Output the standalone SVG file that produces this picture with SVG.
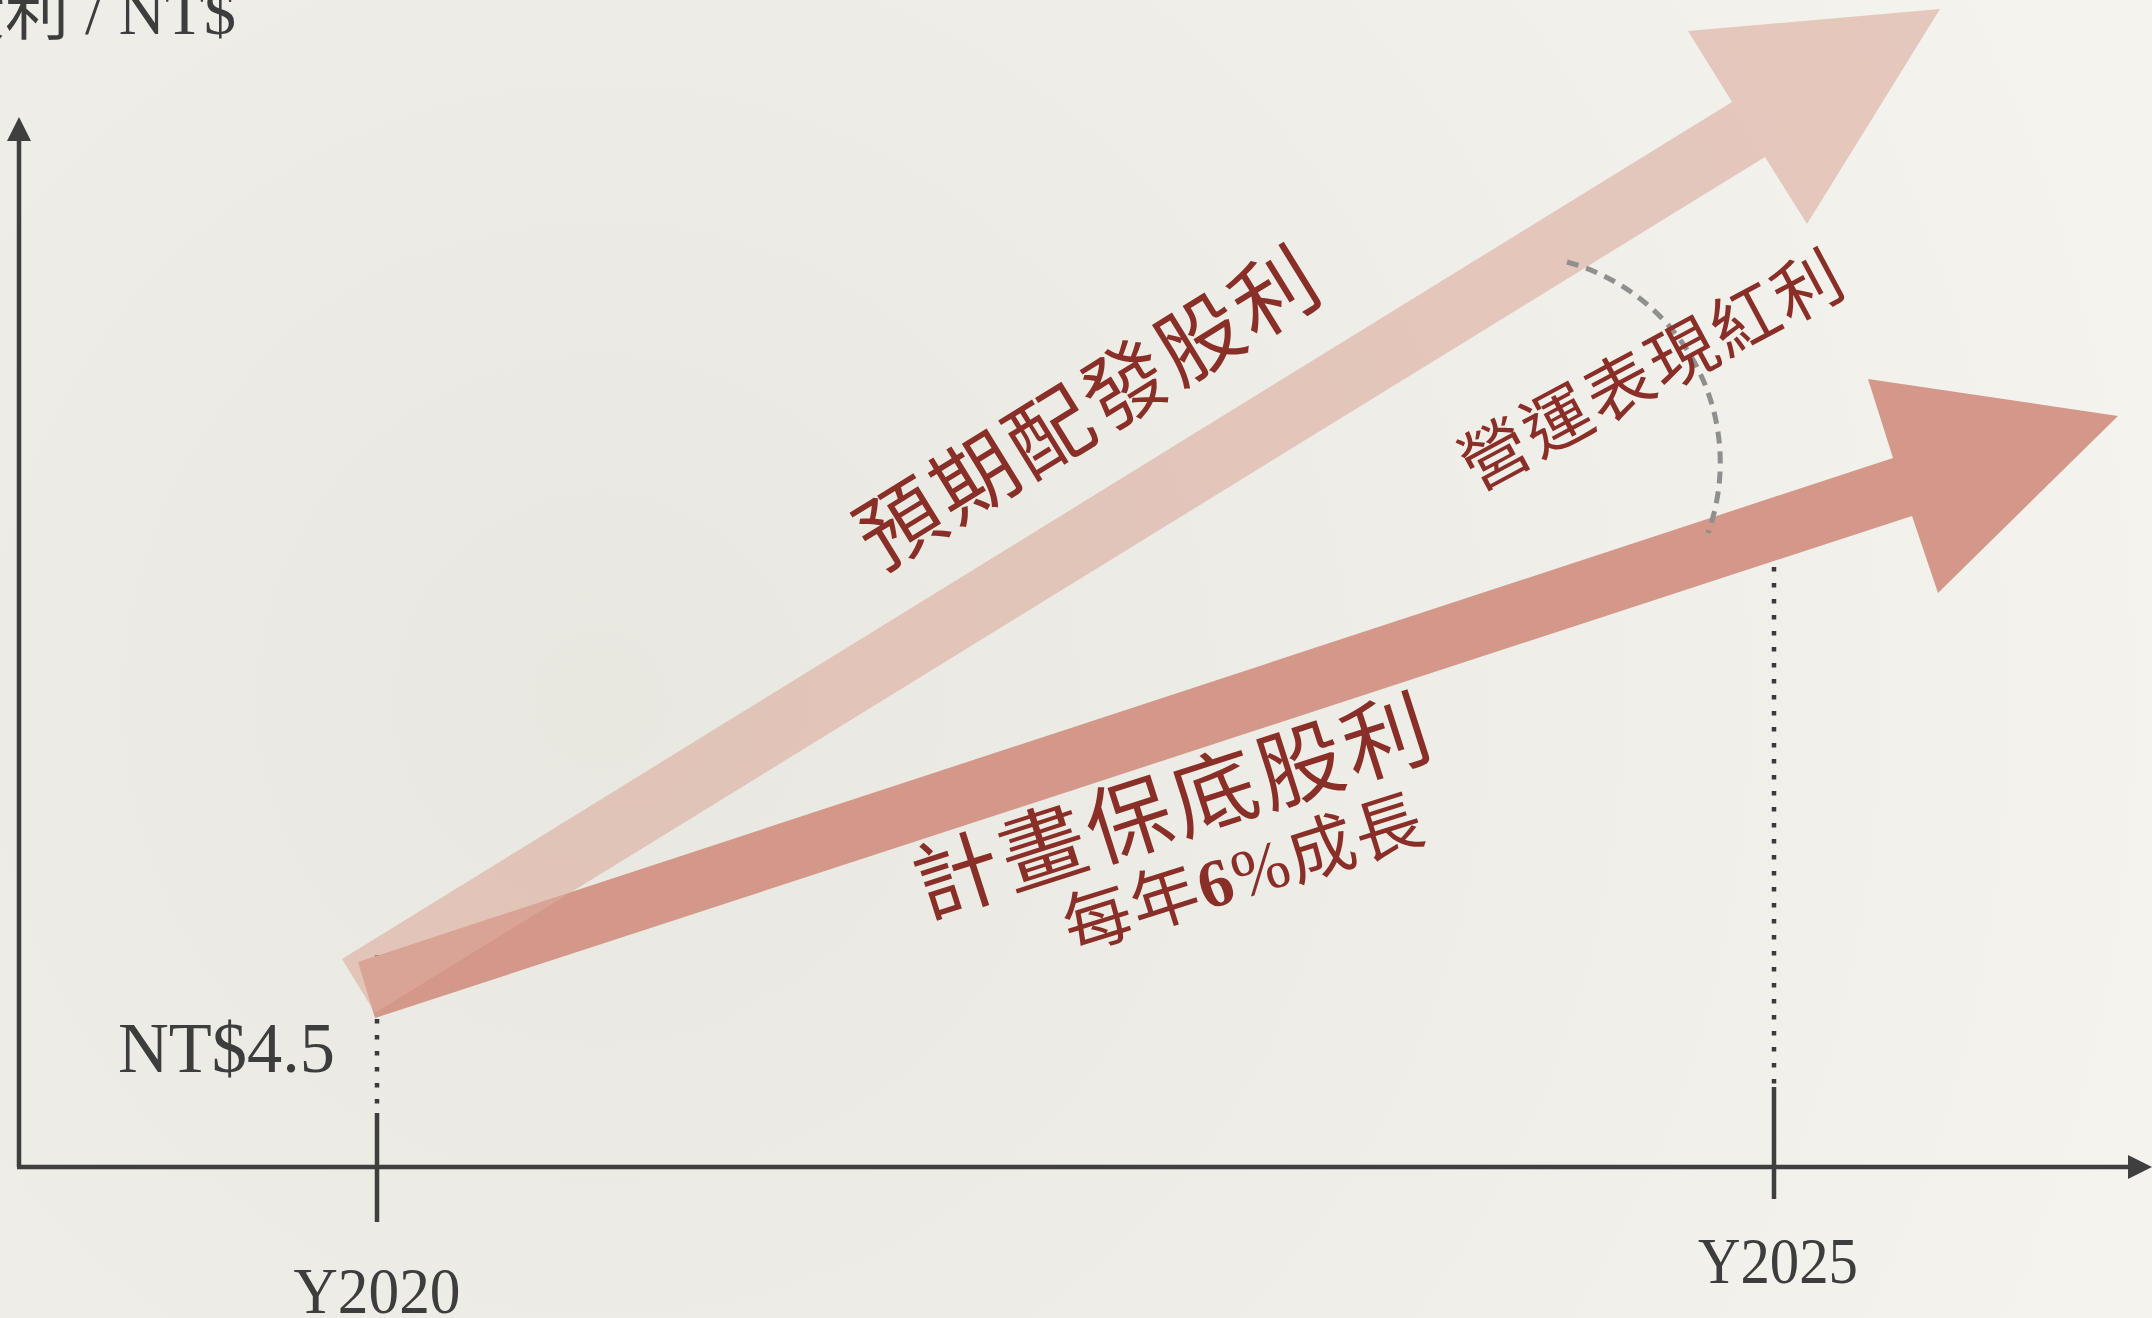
<svg xmlns="http://www.w3.org/2000/svg" width="2152" height="1318" viewBox="0 0 2152 1318">
  <defs>
    <radialGradient id="paper" cx="600" cy="700" r="1600" gradientUnits="userSpaceOnUse">
      <stop offset="0" stop-color="#e8e7e0"/>
      <stop offset="0.6" stop-color="#efeee8"/>
      <stop offset="1" stop-color="#f4f3ee"/>
    </radialGradient>
    <marker id="axisHead" markerUnits="userSpaceOnUse" markerWidth="24" markerHeight="24" refX="0" refY="12" orient="auto" overflow="visible">
      <path d="M0,0 L24,12 L0,24 Z" fill="#3f3f3f"/>
    </marker>
    <style>
      .axis { stroke: #3f3f3f; stroke-width: 4.5; fill: none; }
      .tick { stroke: #3f3f3f; stroke-width: 4.5; fill: none; }
      .dots { stroke: #3a3a3a; stroke-width: 4.5; stroke-dasharray: 4.5 11.5; fill: none; }
      .arc { stroke: #8f8f8d; stroke-width: 5; stroke-dasharray: 12 8; fill: none; }
      .axlabel { font-family: "Liberation Serif", "Noto Sans CJK TC", serif; fill: #3d3d3d; }
      .red { font-family: "Liberation Serif", "Noto Sans CJK TC", serif; fill: #8a2f28; }
    </style>
  </defs>

  <rect x="0" y="0" width="2152" height="1318" fill="url(#paper)"/>

  <g id="node-axes">
    <line class="axis" x1="19" y1="1167" x2="19" y2="141" marker-end="url(#axisHead)"/>
    <line class="axis" x1="17" y1="1167" x2="2128" y2="1167" marker-end="url(#axisHead)"/>
    <line class="tick" x1="377" y1="1113" x2="377" y2="1222"/>
    <line class="tick" x1="1774" y1="1087" x2="1774" y2="1199"/>
    <line class="dots" x1="377" y1="955" x2="377" y2="1107"/>
    <line class="dots" x1="1774" y1="535" x2="1774" y2="1085"/>
    <text class="axlabel" x="236" y="34" font-size="64" text-anchor="end">股利 / NT$</text>
    <text class="axlabel" x="335" y="1072" font-size="71" text-anchor="end" textLength="217" lengthAdjust="spacingAndGlyphs">NT$4.5</text>
    <text class="axlabel" x="377" y="1313" font-size="66" text-anchor="middle" textLength="167" lengthAdjust="spacingAndGlyphs">Y2020</text>
    <text class="axlabel" x="1778" y="1283" font-size="66" text-anchor="middle" textLength="160" lengthAdjust="spacingAndGlyphs">Y2025</text>
  </g>

  <g id="node-guaranteed">
    <polygon points="358,962 1893,458 1868,379 2118,416 1938,593 1912,516 375,1018" fill="#d4988a"/>
  </g>

  <g id="node-expected">
    <polygon points="342,959 1732,102 1688,31 1940,9 1807,224 1765,157 375,1013" fill="#dcab9c" fill-opacity="0.6"/>
  </g>

  <g id="connectors">
    <path class="arc" d="M1567,262 A208,208 0 0 1 1708,533"/>
  </g>

  <g id="label-expected">
    <text class="red" font-size="84" letter-spacing="4" text-anchor="middle" dominant-baseline="central" transform="translate(1090,409) rotate(-31.7)">預期配發股利</text>
  </g>

  <g id="label-guaranteed">
    <text class="red" font-size="86" letter-spacing="4" text-anchor="middle" dominant-baseline="central" transform="translate(1174,808) rotate(-17.8)">計畫保底股利</text>
    <text class="red" font-size="68" letter-spacing="2" text-anchor="middle" dominant-baseline="central" transform="translate(1244,874) rotate(-17.5)">每年<tspan font-weight="bold">6</tspan>%成長</text>
  </g>

  <g id="label-performance">
    <text class="red" font-size="68" letter-spacing="3" text-anchor="middle" dominant-baseline="central" transform="translate(1653,371) rotate(-28.2)">營運表現紅利</text>
  </g>
</svg>
